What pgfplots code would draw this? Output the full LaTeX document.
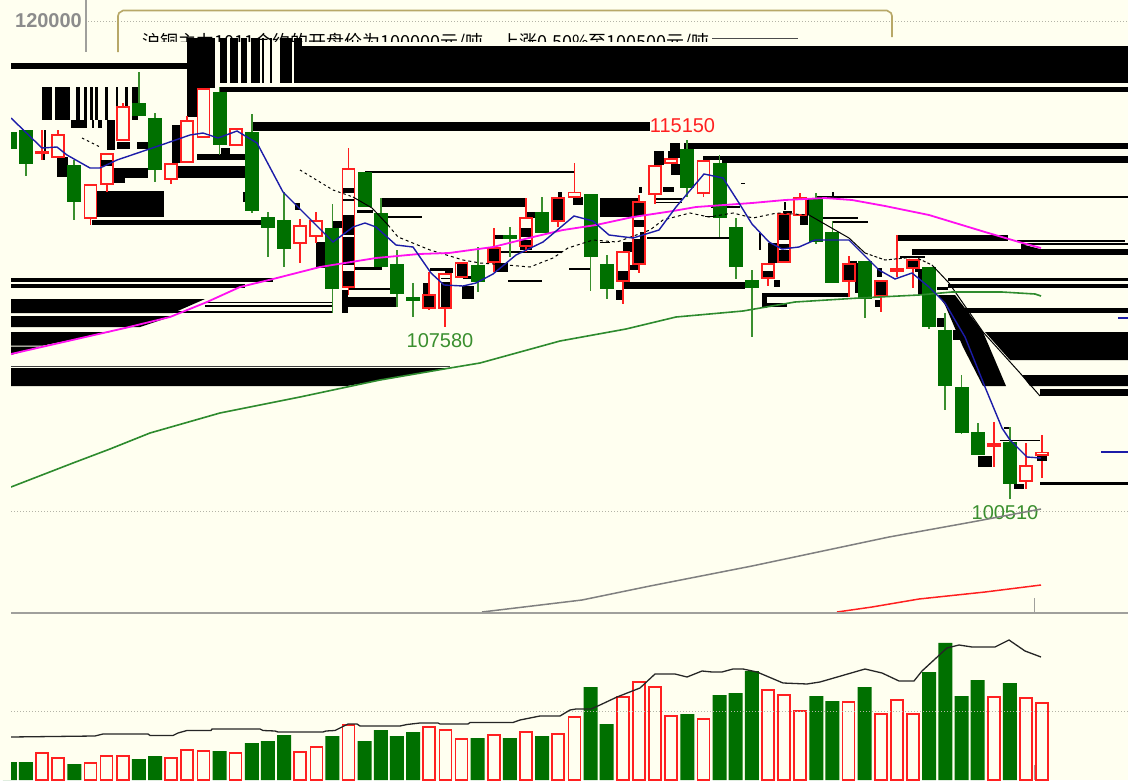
\documentclass[border=0pt]{standalone}
\usepackage{fontspec}
\setmainfont{Liberation Sans}
\newfontfamily\cjk{Noto Sans CJK SC}
\usepackage{pgfplots}
\pgfplotsset{compat=1.18}

\definecolor{bgc}{HTML}{FFFFF0}
\definecolor{upc}{HTML}{FF2020}
\definecolor{dnc}{HTML}{007000}
\definecolor{wkg}{HTML}{3A8F2E}
\definecolor{ma5c}{HTML}{1C1CA8}
\definecolor{ma20c}{HTML}{FF10F0}
\definecolor{ma60c}{HTML}{2E8B2E}
\definecolor{gridc}{HTML}{B4B4A8}
\definecolor{axc}{HTML}{A0A09C}
\definecolor{boxc}{HTML}{B8A868}

\pgfplotsset{
  panel/.style={width=1128pt,height=780pt,scale only axis,hide axis,
    xmin=0,xmax=1128,ymin=0,ymax=780,at={(0pt,0pt)},anchor=south west},
  dotline/.style={gridc,line width=1pt,dash pattern=on 1pt off 2pt},
}

% black rectangle: x0 x1 y0 y1
\newcommand{\bk}[4]{\addplot[fill=black,draw=none] coordinates {(#1,#3)(#2,#3)(#2,#4)(#1,#4)};}
% falling candle: x top bottom wicktop wickbottom
\newcommand{\gc}[5]{%
  \pgfmathsetmacro\xl{#1-7}\pgfmathsetmacro\xr{#1+7}%
  \addplot[wkg,line width=1.8pt] coordinates {(#1,#4)(#1,#5)};
  \addplot[fill=dnc,draw=none] coordinates {(\xl,#2)(\xr,#2)(\xr,#3)(\xl,#3)};
}
% rising candle: x top bottom wicktop wickbottom
\newcommand{\rc}[5]{%
  \pgfmathsetmacro\xl{#1-6}\pgfmathsetmacro\xr{#1+6}%
  \addplot[upc,line width=1.8pt] coordinates {(#1,#4)(#1,#5)};
  \addplot[fill=bgc,draw=upc,line width=1.8pt] coordinates {(\xl,#2)(\xr,#2)(\xr,#3)(\xl,#3)} --cycle;
}

\begin{document}
\begin{tikzpicture}
\begin{axis}[panel,y dir=reverse]
\addplot[fill=bgc,draw=none] coordinates {(0,0)(1128,0)(1128,780)(0,780)};

% header
\addplot[axc,line width=1.6pt] coordinates {(86,0)(86,52)};
\addplot[dotline] coordinates {(88,21)(1128,21)};
\addplot[dotline] coordinates {(11,511.5)(1128,511.5)};
\addplot[boxc,line width=1.6pt] coordinates {(118,52)(118,16)(119,13)(123,10.5)(887,10.5)(891,13)(892,16)(892,37)};
\node[anchor=west,text=black,inner sep=0pt,font=\cjk\fontsize{18}{20}\selectfont] at (axis cs:142,42) {沪铜主力1011合约的开盘价为100000元/吨，上涨0.50\%至100500元/吨};
\addplot[fill=bgc,draw=none] coordinates {(120,42)(890,42)(890,52)(120,52)};
\addplot[black!70,line width=1.5pt] coordinates {(712,38.5)(798,38.5)};
\node[text=black!45,inner sep=0pt,font=\bfseries\fontsize{20}{24}\selectfont] at (axis cs:48.5,21) {120000};

% glitched blocks, top
\bk{11}{187}{63}{69}
\bk{187}{215}{38}{88}\bk{187}{197}{88}{117}
\bk{220}{227}{38}{83}\bk{230}{238}{38}{83}\bk{241}{247}{38}{83}\bk{251}{260}{38}{83}
\bk{262}{264}{38}{83}\bk{270}{272}{38}{83}\bk{280}{292}{38}{83}\bk{294}{302}{38}{83}
\bk{302}{1128}{46}{83}
\bk{220}{1128}{87}{92}
\bk{253}{650}{122}{131}
\bk{684}{1128}{143}{149}
\bk{722}{1128}{156}{163}\bk{703}{722}{156}{160}

% glitched blocks, left
\bk{42}{52}{87}{120}\bk{55}{70}{87}{120}\bk{76}{80}{87}{120}\bk{84}{87}{87}{120}
\bk{90}{93}{87}{120}\bk{95}{98}{87}{120}\bk{105}{108}{87}{120}\bk{116}{118}{87}{120}
\bk{125}{128}{87}{120}\bk{132}{138}{87}{120}
\bk{71}{87}{120}{128}\bk{92}{94}{120}{128}\bk{98}{102}{120}{128}
\bk{107}{115}{120}{150}\bk{117}{130}{142}{149}\bk{137}{148}{142}{149}
\bk{42}{45}{153}{160}
\bk{172}{180}{125}{163}\bk{221}{230}{148}{154}\bk{197}{245}{154}{160}
\bk{57}{68}{157}{177}
\bk{113}{148}{168}{178}\bk{113}{125}{178}{183}
\bk{178}{245}{166}{178}
\bk{97}{164}{191}{217}
\bk{92}{261}{220}{225}
\bk{243}{245}{192}{202}
\bk{295}{300}{203}{210}\bk{316}{325}{242}{268}\bk{333}{342}{221}{228}
\bk{11}{273}{278}{282}\bk{11}{245}{284}{288}
\addplot[fill=black,draw=none] coordinates {(11,299)(205,299)(173,313)(11,313)};
\addplot[fill=black,draw=none] coordinates {(11,316)(173,316)(140,327)(11,327)};
\addplot[fill=black,draw=none] coordinates {(11,332)(110,332)(43,345.5)(11,345.5)};
\addplot[fill=black,draw=none] coordinates {(11,346.5)(40,346.5)(11,355)};
\addplot[black!75,line width=1pt] coordinates {(11,366)(450,366)};
\addplot[fill=black,draw=none] coordinates {(11,368)(450,368)(347,386)(11,386)};
\bk{205}{333}{301.5}{303}\bk{205}{333}{305}{306.5}\bk{173}{333}{311}{312.5}

% glitched blocks, middle
\bk{342}{348}{290}{313}\bk{348}{397}{297}{307}\bk{348}{390}{288}{289.5}
\bk{365}{575}{171}{172.5}
\bk{382}{525}{198}{207}\bk{388}{422}{216}{218}
\bk{355}{382}{267}{270}\bk{357}{373}{210}{213}
\bk{423}{428}{283}{295}\bk{430}{445}{268}{271}\bk{445}{453}{268}{273}
\bk{462}{467}{286}{299}\bk{467}{474}{286}{299}
\bk{463}{472}{276}{279}\bk{495}{508}{263}{272}
\bk{493}{503}{235}{239}\bk{508}{542}{280}{282}\bk{500}{562}{251}{252.5}
\bk{527}{535}{212}{218}\bk{520}{532}{246}{250}
\bk{558}{562}{192}{197}\bk{573}{583}{197}{205}\bk{569}{590}{268}{270}
\bk{600}{638}{198}{217}
\bk{600}{610}{241.5}{243}\bk{623}{632}{242}{252}\bk{630}{638}{265}{270}\bk{616}{623}{290}{300}
\bk{623}{745}{282}{289}
\bk{639}{642}{187}{193}\bk{649}{655}{187}{193}\bk{663}{674}{187}{192}
\bk{654}{664}{151}{165}\bk{670}{680}{143}{156}\bk{668}{680}{151}{158}\bk{671}{680}{164}{175}
\bk{654}{682}{198}{199.5}\bk{654}{682}{202}{203}
\bk{647}{730}{237}{238.5}\bk{711}{740}{206}{208}\bk{705}{715}{216}{217}\bk{741}{745}{183}{184}

% glitched blocks, right
\bk{774}{780}{280}{287}
\bk{762}{849}{293}{297}\bk{762}{767}{297}{308}\bk{767}{787}{303}{307}
\bk{759}{761}{233}{250}\bk{768}{783}{243}{263}
\bk{783}{792}{211}{213}\bk{784}{786}{202}{210}\bk{800}{808}{215}{225}\bk{806}{810}{198}{215}
\bk{817}{1128}{196}{198}\bk{832}{834}{192}{198}
\bk{823}{858}{217}{219}\bk{832}{868}{221}{222.5}
\bk{848}{857}{261}{263}\bk{855}{858}{263}{293}\bk{877}{882}{268}{277}\bk{875}{881}{300}{307}
\bk{897}{1008}{235}{241}\bk{1017}{1125}{240}{242}\bk{1022}{1128}{243}{244.5}
\addplot[fill=black,draw=none] coordinates {(1021,244)(1040,249)(1021,249)};
\bk{912}{1128}{249}{255}
\bk{900}{925}{256}{258}\bk{915}{925}{269}{272}\bk{918}{925}{272}{295}
\bk{948}{1128}{278}{281}\bk{948}{1128}{284}{288}\bk{937}{948}{287}{290}
\bk{965}{1128}{308}{313}
\addplot[fill=black,draw=none] coordinates {(985,332)(1128,332)(1128,360)(1010,360)};
\addplot[fill=black,draw=none] coordinates {(1022,375)(1128,375)(1128,386)(1030,386)};
\bk{1040}{1128}{389}{396}
\addplot[fill=black,draw=none] coordinates {(938,295)(955,295)(983,332)(1006,386)(983,386)(963,347)(945,305)};
\bk{937}{945}{318}{327}\bk{953}{963}{330}{340}
\bk{1040}{1128}{482}{485}
\bk{1014}{1024}{484}{489}\bk{978}{992}{456}{467}
\bk{1000}{1015}{440}{441}\bk{1010}{1040}{440}{441}\bk{1004}{1010}{427}{429}

% candles
\gc{9.8}{132}{149}{130}{152}
\gc{25.9}{130}{164}{130}{176}
\rc{42.1}{151.5}{153}{130}{160}
\rc{58.2}{135}{157}{130}{157}
\gc{74.3}{165}{202}{160}{220}
\rc{90.5}{185}{218}{185}{225}
\rc{106.6}{154}{184}{154}{192}
\rc{122.7}{107}{140}{103}{140}
\gc{138.8}{103}{116}{72}{116}
\gc{155}{118}{170}{113}{182}
\rc{171.1}{164}{179}{164}{184}
\rc{187.2}{121}{162}{116}{162}
\rc{203.4}{89}{137}{89}{137}
\gc{219.5}{92}{145}{87}{155}
\rc{235.6}{129}{145}{129}{145}
\gc{251.8}{132}{211}{114}{213}
\gc{267.9}{217}{228}{212}{257}
\gc{284}{220}{249}{192}{267}
\rc{300.1}{226}{243}{219}{263}
\rc{316.3}{221}{236}{212}{243}
\gc{332.4}{228}{289}{204}{313}
\rc{348.5}{169}{287}{148}{295}
\gc{364.7}{172}{207}{172}{207}
\gc{380.8}{213}{267}{198}{267}
\gc{396.9}{264}{294}{250}{307}
\gc{413.1}{297}{301}{283}{317}
\rc{429.2}{295}{308}{272}{310}
\rc{445.3}{274}{308}{274}{327}
\rc{461.4}{263}{277}{263}{277}
\gc{477.6}{265}{282}{247}{292}
\rc{493.7}{248}{262}{228}{272}
\gc{509.8}{235}{239}{227}{257}
\rc{526}{218}{246}{198}{252}
\gc{542.1}{212}{233}{197}{233}
\rc{558.2}{198}{221}{198}{227}
\rc{574.4}{192.5}{197}{163}{197}
\gc{590.5}{194}{257}{194}{291}
\gc{606.6}{264}{289}{255}{299}
\rc{622.7}{252}{281}{252}{304}
\rc{638.9}{202}{264}{195}{273}
\rc{655}{166}{194}{166}{204}
\rc{671.1}{159}{163}{159}{163}
\gc{687.3}{149}{188}{140}{197}
\rc{703.4}{161}{193}{161}{197}
\gc{719.5}{163}{218}{155}{237}
\gc{735.7}{227}{267}{218}{279}
\gc{751.8}{280}{288}{270}{337}
\rc{767.9}{264}{278}{264}{286}
\rc{784}{214}{262}{230}{262}
\rc{800.2}{198}{215}{193}{215}
\gc{816.3}{199}{242}{193}{244}
\gc{832.4}{232}{283}{221}{283}
\rc{848.6}{264}{281}{256}{297}
\gc{864.7}{261}{299}{261}{318}
\rc{880.8}{281}{296}{281}{312}
\rc{897}{269}{271}{235}{277}
\rc{913.1}{260}{268}{260}{288}
\gc{929.2}{267}{327}{267}{329}
\gc{945.3}{330}{386}{313}{410}
\gc{961.5}{387}{433}{375}{434}
\gc{977.6}{432}{455}{423}{455}
\rc{993.7}{444}{446}{422}{467}
\gc{1009.9}{442}{484}{427}{499}
\rc{1026}{466}{481}{443}{489}
\rc{1042.1}{452.5}{455}{435}{478}

% black showing through rising candles
\bk{44}{46}{130}{151}
\bk{101}{112}{160}{166}
\bk{343}{354}{188}{193}\bk{343}{354}{199}{201}\bk{343}{354}{215}{235}\bk{343}{354}{237}{265}\bk{343}{354}{271}{286}
\bk{424}{434.3}{296}{307}
\bk{441}{450}{282}{307}\bk{441}{450}{278}{279}
\bk{456.5}{466.5}{264}{276}
\bk{489}{498.7}{249}{261}
\bk{521}{531}{228}{237}\bk{521}{531}{240}{245}
\bk{553}{563}{199}{220}
\bk{618}{628}{271}{280}
\bk{634}{644}{203}{216}\bk{634}{644}{220}{227}\bk{634}{640}{239}{263}\bk{640}{644}{232}{263}
\bk{763}{773}{271}{277}
\bk{779}{789}{215}{240}\bk{779}{789}{244}{248}\bk{779}{789}{250}{261}
\bk{843.6}{853.6}{265}{280}
\bk{876}{886}{282}{295}
\bk{908}{918}{261}{267}
\bk{1037}{1047}{455.5}{461}

% averages
\addplot[black,line width=1pt,dash pattern=on 2.5pt off 3pt] coordinates {(82,138)(100,147)};
\addplot[black,line width=1pt,dash pattern=on 2.5pt off 3pt] coordinates {(300,170)(333,190)(353,197)};
\addplot[black,line width=1pt] coordinates {(353,197)(372,208)(388,225)};
\addplot[black,line width=1pt,dash pattern=on 3pt off 3pt] coordinates {(388,225)(398,237)(430,250)(463,260)(480,263)(507,265)(530,267)(553,258)(568,248)(593,240)(617,242)(650,230)(663,220)(690,213)(709,217)(733,213)(753,218)(777,213)(809,215)};
\addplot[black,line width=1pt] coordinates {(809,215)(849,238)(865,253)};
\addplot[black,line width=1pt,dash pattern=on 3pt off 2pt] coordinates {(865,253)(885,260)(915,257)(932,265)};
\addplot[black,line width=1pt] coordinates {(932,265)(949,283)(983,332)(1020,373)(1040,396)};
\addplot[ma60c,line width=1.6pt] coordinates {(11,487)(73,463)(110,449)(150,433)(220,413)(300,397)(347,387)(380,380)(450,368)(480,363)(560,341)(626,329)(676,317)(743,311)(795,302)(859,298)(919,295)(952,292)(1002,292)(1035,294)(1041,296)};
\addplot[ma20c,line width=1.8pt] coordinates {(11,354)(125,328)(170,317)(207,302)(240,287)(273,279)(320,267)(376,258)(419,254)(449,253)(493,247)(533,237)(563,230)(596,225)(633,217)(673,211)(696,207)(752,203)(785,200)(825,198)(852,200)(885,206)(929,215)(985,232)(1019,242)(1041,248)};
\addplot[ma5c,line width=1.4pt] coordinates {(11,118)(42,148)(57,147)(67,155)(90,168)(100,168)(117,160)(167,143)(190,135)(203,133)(218,138)(237,131)(257,143)(283,192)(323,232)(333,242)(353,227)(365,223)(376,227)(396,245)(413,247)(431,273)(444,285)(463,286)(476,283)(493,274)(516,255)(543,242)(574,216)(593,221)(609,235)(633,238)(659,230)(676,207)(704,174)(723,178)(739,203)(752,224)(769,242)(782,249)(799,247)(815,240)(849,240)(879,270)(895,279)(912,273)(929,287)(945,303)(965,337)(985,387)(1002,428)(1010,440)(1027,457)(1041,458)};
\addplot[ma5c,line width=1.4pt] coordinates {(1101,452)(1128,452)};
\addplot[ma5c,line width=1.4pt] coordinates {(1118,318)(1128,318)};

% labels of the extremes
\node[text=upc,inner sep=0pt,font=\fontsize{20}{24}\selectfont] at (axis cs:682.5,126) {115150};
\node[text=wkg,inner sep=0pt,font=\fontsize{20}{24}\selectfont] at (axis cs:440,341) {107580};
\node[text=wkg,inner sep=0pt,font=\fontsize{20}{24}\selectfont] at (axis cs:1005,513) {100510};

% long averages in the lower part
\addplot[black!50,line width=1.5pt] coordinates {(482,612)(582,600)(650,586)(752,566)(889,537)(972,522)(1041,509)};
\addplot[upc,line width=1.5pt] coordinates {(837,612)(872,607)(919,599)(985,592)(1041,585)};
\addplot[axc,line width=1.5pt] coordinates {(1034.7,598)(1034.7,612)};
\addplot[axc,line width=2pt] coordinates {(11,612.8)(1128,612.8)};
\end{axis}

% volume panel
\begin{axis}[panel]
\addplot[ybar,bar width=14pt,fill=dnc,draw=none] table[x=x,y=v] {
x v
9.8 18
25.9 18
74.3 16
138.8 21
155 24
219.5 29
251.8 37
267.9 39
284 45
332.4 44
364.7 39
380.8 50
396.9 44
413.1 48
477.6 42
509.8 42
542.1 44
590.5 93
606.6 56
687.3 66
719.5 85
735.7 87
751.8 109
816.3 84
832.4 79
864.7 93
929.2 108
945.3 137
961.5 84
977.6 100
1009.9 97
};
\addplot[ybar,bar width=12pt,fill=bgc,draw=upc,line width=1.6pt] table[x=x,y=v] {
x v
42.1 27
58.2 22
90.5 17
106.6 24
122.7 24
171.1 22
187.2 30
203.4 29
235.6 27
300.1 28
316.3 33
348.5 55
429.2 53
445.3 50
461.4 41
493.7 45
526 48
558.2 46
574.4 63
622.7 83
638.9 98
655 93
671.1 64
703.4 61
767.9 90
784 85
800.2 69
848.6 78
880.8 66
897 80
913.1 66
993.7 83
1026 82
1042.1 77
};
\addplot[dotline] coordinates {(11,69)(1128,69)};
\addplot[black!85,line width=1.3pt] coordinates {(11,43)(95,44)(103,46)(148,46)(150,44.5)(173,44.5)(178,47)(187,49.5)(211,49.5)(212,51)(260,51)(263,49.5)(275,49)(278,48)(323,48)(326,49)(335,49.5)(342,53)(348,56)(357,56)(360,54)(400,54)(407,55.5)(420,57)(438,57)(440,56)(468,56)(470,57.5)(513,57.5)(520,60)(535,63)(540,64)(560,64)(570,70)(576,71)(591,71)(600,75)(617,83)(640,92)(655,106)(675,106)(687,103)(702,109)(712,108)(722,108)(733,111)(743,111)(757,108)(783,97)(807,96)(820,98)(865,111)(882,107)(899,99)(914,99)(922,109)(947,132)(959,135)(972,133)(995,133)(1009,140)(1025,129)(1041,123)};
\addplot[axc,line width=1.5pt] coordinates {(1034.7,0)(1034.7,15)};
\addplot[fill=bgc,draw=none] coordinates {(0,0)(11,0)(11,735)(0,735)};
\end{axis}
\end{tikzpicture}
\end{document}
